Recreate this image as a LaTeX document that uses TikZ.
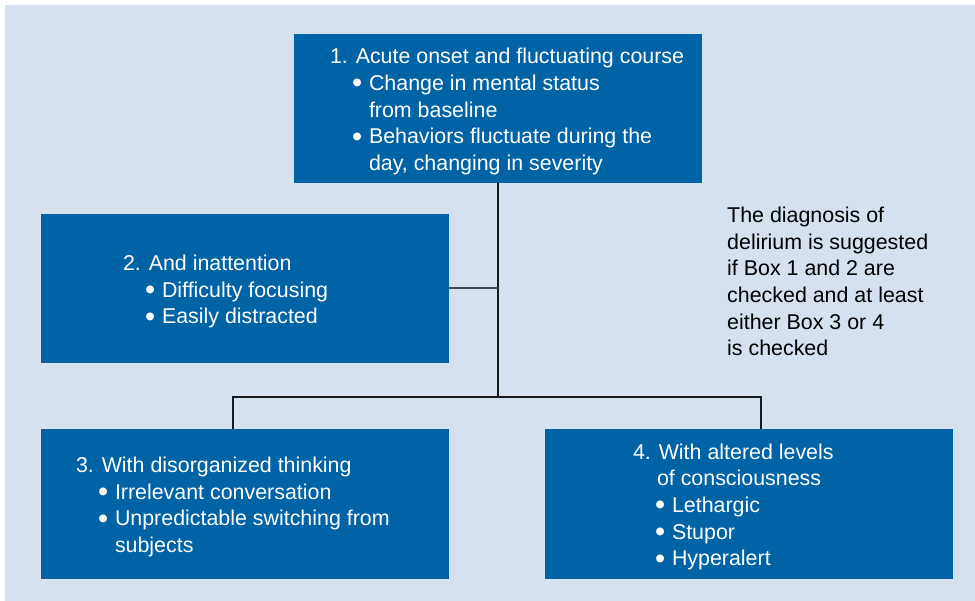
\documentclass[tikz,border=0pt]{standalone}
\usepackage{fontspec}
\setmainfont{Liberation Sans}
\usepackage{xcolor}
\usetikzlibrary{positioning,calc}

\definecolor{boxblue}{RGB}{0,99,165}
\definecolor{paleblue}{RGB}{214,225,239}
\definecolor{linegray}{RGB}{64,72,80}

\newcommand{\bul}{\hspace*{22pt}\makebox[17pt][l]{\raisebox{-2.4pt}{\scalebox{1.35}{\textbullet}}}}
\newcommand{\cont}{\hspace*{39pt}}

\begin{document}
\begin{tikzpicture}[x=1pt, y=-1pt,
    box/.style={fill=boxblue, inner sep=0pt, minimum width=408pt, minimum height=149pt},
    txt/.style={text=white, align=left, inner sep=0pt, anchor=west, yshift=-3pt,
        font={\fontsize{21.4}{26.6}\selectfont}},
    note/.style={text=black, align=left, inner sep=0pt, anchor=west, yshift=-3pt,
        font={\fontsize{21.4}{26.6}\selectfont}},
    link/.style={draw=black!90, line width=1.2pt}]
    \useasboundingbox (0,0) rectangle (975,601);
    \fill[white] (0,0) rectangle (975,601);
    \fill[paleblue] (5,5) rectangle (975,601);

    \node (b1) [box] at (498,108.5) {};
    \node (b2) [box] at (245,288.5) {};
    \node (b3) [box] at (245,504) {};
    \node (b4) [box] at (749,504) {};

    \node (t1) [txt] at ([xshift=36pt]b1.west) {1. Acute onset and fluctuating course\\
        \bul Change in mental status\\
        \cont from baseline\\
        \bul Behaviors fluctuate during the\\
        \cont day, changing in severity};
    \node (t2) [txt] at ([xshift=82pt]b2.west) {2. And inattention\\
        \bul Difficulty focusing\\
        \bul Easily distracted};
    \node (t3) [txt] at ([xshift=35pt]b3.west) {3. With disorganized thinking\\
        \bul Irrelevant conversation\\
        \bul Unpredictable switching from\\
        \cont subjects};
    \node (t4) [txt] at ([xshift=88pt]b4.west) {4. With altered levels\\
        \hspace*{24pt}of consciousness\\
        \bul Lethargic\\
        \bul Stupor\\
        \bul Hyperalert};

    \node (note) [note] at (727,278.5) {The diagnosis of\\
        delirium is suggested\\
        if Box 1 and 2 are\\
        checked and at least\\
        either Box 3 or 4\\
        is checked};

    % joints of the tree
    \coordinate (j) at (b1.south |- 0,397);
    \coordinate (jl) at (233,397);
    \coordinate (jr) at (761,397);

    \draw[link] (b1.south) -- (j);
    \draw[draw=linegray, line width=2pt] (b2.east) -- (b2.east -| j);
    \draw[link] (b3.north -| jl) -- (jl) -- (jr) -- (b4.north -| jr);
\end{tikzpicture}
\end{document}
